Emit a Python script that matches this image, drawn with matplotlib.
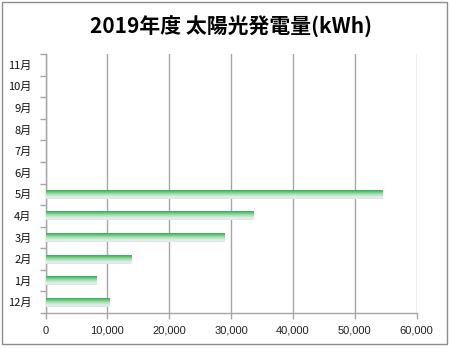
import matplotlib
matplotlib.use("Agg")
import matplotlib.pyplot as plt
import numpy as np
from matplotlib.colors import LinearSegmentedColormap
from matplotlib.patches import Rectangle

plt.rcParams['font.family'] = ['Noto Sans CJK JP', 'DejaVu Sans']

months = ["12月", "1月", "2月", "3月", "4月", "5月", "6月", "7月", "8月", "9月", "10月", "11月"]
values = [10200, 8100, 13800, 28900, 33600, 54500, 0, 0, 0, 0, 0, 0]
xticks = [0, 10000, 20000, 30000, 40000, 50000, 60000]
title = "2019年度 太陽光発電量(kWh)"

W, H = 450, 348
fig = plt.figure(figsize=(W / 100, H / 100), dpi=100)
fig.patch.set_facecolor("white")
fig.add_artist(Rectangle((1.5 / W, 4 / H), 445.5 / W, 342.5 / H, transform=fig.transFigure,
                         fill=False, edgecolor="#8c8c8c", linewidth=1.0))

ax = fig.add_axes([45.5 / W, 35 / H, 371 / W, 259 / H])
ypos = np.arange(len(months))
bars = ax.barh(ypos, values, height=0.42, color="none", edgecolor="none", zorder=3)

cmap = LinearSegmentedColormap.from_list(
    "g", [(0, "#17ab45"), (0.2, "#45bd66"), (0.5, "#a8dcb2"), (0.8, "#e2f1e4"), (1.0, "#dfe3ea")])
grad = np.linspace(0, 1, 64).reshape(-1, 1)
for b, v in zip(bars, values):
    if v <= 0:
        continue
    x0, y0 = b.get_x(), b.get_y()
    w, h = b.get_width(), b.get_height()
    im = ax.imshow(grad, cmap=cmap, aspect="auto", extent=(x0, x0 + w, y0, y0 + h),
                   origin="upper", zorder=3, interpolation="bilinear")
    im.set_clip_path(b)

ax.set_xlim(0, 60000)
ax.set_ylim(-0.5, len(months) - 0.5)
ax.set_xticks(xticks)
ax.set_xticklabels([f"{t:,}" for t in xticks], fontsize=8, family=["Liberation Sans", "DejaVu Sans"],
                   color="#222222")
ax.xaxis.grid(True, color="#a6a6a6", linewidth=1.0, zorder=0)
ax.set_axisbelow(True)

ax.set_yticks(np.arange(len(months) + 1) - 0.5)
ax.set_yticklabels([])
ax.set_yticks(ypos, minor=True)
ax.set_yticklabels(months, minor=True, fontsize=8, color="#111111")
ax.tick_params(axis="y", which="minor", length=0, pad=10)
ax.tick_params(axis="y", which="major", length=4, color="#a6a6a6", width=1)
ax.tick_params(axis="x", length=4, color="#a6a6a6", width=1, pad=5)

for s in ["top", "right"]:
    ax.spines[s].set_visible(False)
for s in ["left", "bottom"]:
    ax.spines[s].set_color("#a6a6a6")
    ax.spines[s].set_linewidth(1.0)

fig.text(231 / W, 1 - 27 / H, title, ha="center", va="center", fontsize=15, fontweight="bold")

fig.savefig("out.png", dpi=100)
